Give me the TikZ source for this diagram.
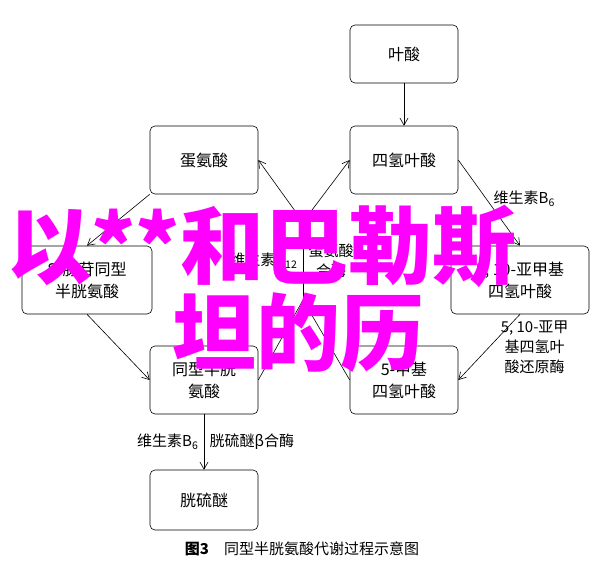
\documentclass[tikz,border=0pt]{standalone}
\usepackage{fontspec}
\usetikzlibrary{arrows.meta}
\setmainfont{Liberation Serif}
\newfontfamily\cjk{Noto Sans CJK SC}
\begin{document}
\begin{tikzpicture}[x=1pt,y=-1pt,
        box/.style={draw, rounded corners=5pt, minimum width=108pt, minimum height=68pt, align=center, font=\fontsize{16}{22}\selectfont\cjk, line width=0.6pt},
        wide/.style={box, minimum width=138pt},
        lab/.style={font=\fontsize{15}{20}\selectfont\cjk, align=center},
        arr/.style={->, >={Straight Barb[length=7pt,width=8pt]}, line width=0.6pt},
        wmark/.style={font=\fontsize{84}{86}\selectfont\cjk\bfseries, text={rgb,255:red,255;green,0;blue,255}}]
        \useasboundingbox (0,0) rectangle (600,574);

        \node[box, minimum height=58pt] (FA) at (404,54) {叶酸};
        \node[box] (MET) at (204,160) {蛋氨酸};
        \node[box] (THF) at (404,160) {四氢叶酸};
        \node[wide, minimum width=130pt] (SAH) at (87,280) {S-腺苷同型\\半胱氨酸};
        \node[wide] (MTHF) at (520,280) {5, 10-亚甲基\\四氢叶酸};
        \node[box] (HCY) at (204,380) {同型半胱\\氨酸};
        \node[box] (MeTHF) at (404,380) {5-甲基\\四氢叶酸};
        \node[box, minimum height=60pt] (CYS) at (204,500) {胱硫醚};

        \coordinate (top) at (303,222);
        \coordinate (bot) at (303,300);

        \draw[arr] (FA) -- (THF);
        \draw[arr] (MET.south west) -- (SAH.north);
        \draw[arr] (SAH.south) -- (HCY.west);
        \draw[arr] (THF.east) -- (MTHF.north) node[pos=0.45, right=4pt, lab] {维生素B\textsubscript{6}};
        \draw[arr] (MTHF.south) -- (MeTHF.east) node[pos=0.5, right=8pt, lab] {5, 10-亚甲\\基四氢叶\\酸还原酶};
        \draw[arr] (HCY) -- (CYS) node[midway, left=2pt, lab] {维生素B\textsubscript{6}} node[midway, right=2pt, lab] {胱硫醚β合酶};

        \draw[line width=0.6pt] (HCY.east) -- (bot) -- (MeTHF.west);
        \draw[line width=0.6pt] (bot) -- (top) node[midway, left=2pt, lab] {维生素B\textsubscript{12}} node[midway, right=2pt, lab] {蛋氨酸\\合酶};
        \draw[arr] (top) -- (MET.east);
        \draw[arr] (top) -- (THF.west);

        \node[font=\fontsize{15}{18}\selectfont\cjk] (cap) at (302,549) {\textbf{图3}\quad 同型半胱氨酸代谢过程示意图};

        % watermark
        \node[wmark] (w1) at (262,246) {以**和巴勒斯};
        \node[wmark] (w2) at (298,333) {坦的历};
    \end{tikzpicture}
\end{document}
